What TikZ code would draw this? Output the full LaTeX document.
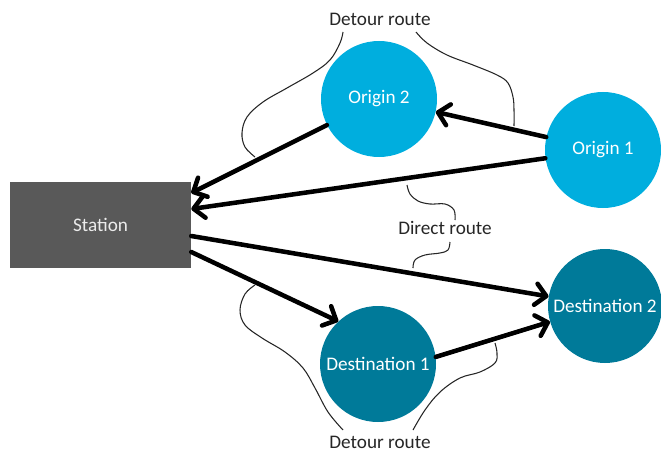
\documentclass[tikz,border=0pt]{standalone}
\usepackage{fontspec}
\setmainfont{Carlito}
\usetikzlibrary{arrows.meta,calc}
\definecolor{stationgray}{HTML}{595959}
\definecolor{originblue}{HTML}{00AEDE}
\definecolor{desttea}{HTML}{007A99}
\definecolor{labeltext}{HTML}{262626}
\tikzset{
  place/.style={circle, minimum size=87pt, inner sep=0pt, text=white,
                font=\fontsize{14.4}{16}\selectfont},
  origin/.style={place, fill=originblue},
  dest/.style={place, fill=desttea},
  stationbox/.style={rectangle, fill=stationgray, minimum width=135.75pt, minimum height=64.5pt,
                     inner sep=0pt, text=white!92!black, font=\fontsize{14.4}{16}\selectfont},
  route/.style={line width=3.4pt, line cap=round,
                -{Straight Barb[length=8pt, width=16pt, line cap=round, line join=round]}},
  brace/.style={line width=0.8pt, labeltext},
  tag/.style={text=labeltext, font=\fontsize{14.4}{16}\selectfont, inner sep=1pt}
}
\begin{document}
\begin{tikzpicture}[x=0.75pt, y=-0.75pt]
  \useasboundingbox (0,0) rectangle (661,453);

  % places
  \node[stationbox] (st) at (100.5,225) {Station};
  \node[origin] (o2) at (379,99) {Origin 2};
  \node[origin] (o1) at (603,150) {Origin 1};
  \node[dest] (d1) at (378,364) {Destination 1};
  \node[dest, minimum size=85.5pt] (d2) at (605,306) {Destination 2};

  % connection points on the station's right side
  \coordinate (sA) at ($(st.east)+(0,-32)$);
  \coordinate (sB) at ($(st.east)+(0,-16)$);
  \coordinate (sC) at ($(st.east)+(0,11)$);
  \coordinate (sD) at ($(st.east)+(0,27)$);

  % routes
  \draw[route] (o1) -- (o2);
  \draw[route] (o2) -- (sA);
  \draw[route] (o1) -- (sB);
  \draw[route] (sC) -- (d2);
  \draw[route] (sD) -- (d1.133);
  \draw[route] (d1.7) -- (d2.196);

  % labels
  \node[tag] (top) at (380,19) {Detour route};
  \node[tag] (mid) at (445,228) {Direct route};
  \node[tag] (bot) at (380,442) {Detour route};

  % brace over the upper detour
  \draw[brace] plot[smooth, tension=0.6] coordinates
    {(343,32) (340,43) (330,60) (313,73) (287,88) (263,102) (247,117) (242,133) (245,147) (255,157)};
  \draw[brace] plot[smooth, tension=0.6] coordinates
    {(416,32) (427,43) (447,55) (473,65) (497,75) (508,83) (513,97) (514,110) (514,126)};

  % brace between the direct routes
  \draw[brace] plot[smooth, tension=0.6] coordinates
    {(407,185) (410,194) (418,201) (430,204) (445,204) (454,210) (455,220)};
  \draw[brace] plot[smooth, tension=0.6] coordinates
    {(450,242) (448,250) (440,253) (425,255) (415,260) (413,268)};

  % brace under the lower detour
  \draw[brace] plot[smooth, tension=0.6] coordinates
    {(255,285) (245,294) (240,310) (245,325) (262,338) (285,352) (303,368) (315,388) (328,412) (343,430)};
  \draw[brace] plot[smooth, tension=0.6] coordinates
    {(413,430) (425,410) (440,392) (460,378) (480,372) (495,363) (497,353) (495,343)};
\end{tikzpicture}
\end{document}
